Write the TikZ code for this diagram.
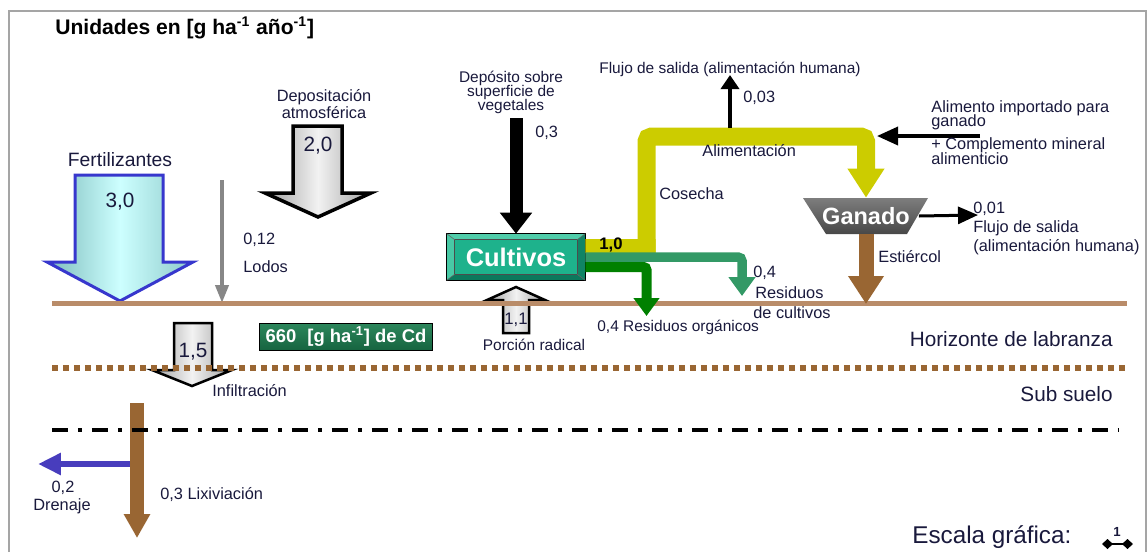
\documentclass[tikz,border=0pt]{standalone}
\usepackage{fontspec}
\setmainfont{Liberation Sans}
\usetikzlibrary{arrows.meta,calc}

\definecolor{textc}{RGB}{25,25,60}
\definecolor{framec}{RGB}{165,165,165}
\definecolor{soilc}{RGB}{185,140,105}
\definecolor{brownc}{RGB}{153,102,51}
\definecolor{yellowc}{RGB}{204,204,0}
\definecolor{midgreen}{RGB}{51,153,102}
\definecolor{darkgreen}{RGB}{0,128,0}
\definecolor{fertedge}{RGB}{55,55,205}
\definecolor{fertside}{RGB}{125,188,188}
\definecolor{fertmid}{RGB}{205,255,255}
\definecolor{greyside}{RGB}{160,160,160}
\definecolor{greymid}{RGB}{242,242,242}
\definecolor{lodosc}{RGB}{135,135,135}
\definecolor{drainc}{RGB}{72,61,189}
\definecolor{cultfill}{RGB}{30,178,140}
\definecolor{cultlight}{RGB}{80,205,170}
\definecolor{cultdark}{RGB}{12,120,92}
\definecolor{ganadotop}{RGB}{125,125,125}
\definecolor{ganadobot}{RGB}{72,72,72}
\definecolor{cdtop}{RGB}{45,135,92}
\definecolor{cdbot}{RGB}{22,100,64}

\tikzset{
  lbl/.style={text=textc, inner sep=0pt, font=\fontsize{9.3}{11}\selectfont},
  lblsm/.style={text=textc, inner sep=0pt, font=\fontsize{8.8}{10}\selectfont},
  lblmid/.style={text=textc, inner sep=0pt, font=\fontsize{11}{13}\selectfont},
  lblbig/.style={text=textc, inner sep=0pt, font=\fontsize{11.8}{14}\selectfont},
  inarrow/.style={text=textc, inner sep=0pt, font=\fontsize{11.8}{14}\selectfont},
  greyblock/.style={draw=black, line join=miter, left color=greyside, right color=greyside, middle color=greymid},
  fertblock/.style={draw=fertedge, line join=miter, left color=fertside, right color=fertside!80!fertmid, middle color=fertmid},
  cultbox/.style={minimum width=2.76cm, minimum height=0.92cm, inner sep=0pt, fill=cultfill,
    text=white, font=\bfseries\fontsize{14.5}{16}\selectfont},
  cdbox/.style={minimum width=3.48cm, minimum height=0.54cm, inner sep=0pt, draw=black, line width=0.02cm,
    top color=cdtop, bottom color=cdbot, text=white, font=\bfseries\fontsize{10.5}{12}\selectfont},
  flow/.style={line cap=butt},
}

\begin{document}
\begin{tikzpicture}[x=0.02cm,y=-0.02cm]
\useasboundingbox (0,0) rectangle (1147,552);

% outer frame
\draw[framec, line width=0.045cm] (9,552) -- (9,11) -- (1146,11) -- (1146,552);

% title
\node[anchor=west, inner sep=0pt, text=black, font=\bfseries\fontsize{12}{14}\selectfont] (title) at (55,28)
  {Unidades en [g ha\textsuperscript{-1} año\textsuperscript{-1}]};

% ---------- inputs from above ----------
\node[lblmid] (fertlbl) at (120,160) {Fertilizantes};
\draw[fertblock, line width=0.06cm]
  (75,175) -- (163,175) -- (163,262) -- (193,262) -- (120,301) -- (47,262) -- (75,262) -- cycle;
\node[inarrow] (fertval) at (120,202) {3,0};

\node[lbl] (atm1) at (324,97) {Depositación};
\node[lbl] (atm2) at (324,113) {atmosférica};
\draw[greyblock, line width=0.07cm]
  (293,126) -- (342,126) -- (342,193) -- (371,193) -- (318,217) -- (265,193) -- (293,193) -- cycle;
\node[inarrow] (atmval) at (318,146) {2,0};

\coordinate (lodostop) at (222,180);
\coordinate (lodosend) at (222,303);
\draw[lodosc, line width=0.08cm, -{Triangle[width=0.26cm,length=0.36cm]}] (lodostop) -- (lodosend);
\node[lbl, anchor=west] (lodosval) at (243,240) {0,12};
\node[lbl, anchor=west] (lodoslbl) at (243,267) {Lodos};

% ---------- crops ----------
\node[cultbox] (cult) at (516,257) {Cultivos};
\fill[cultlight] (cult.north west) -- (cult.north east) -- ($(cult.north east)+(-8,6)$) -- ($(cult.north west)+(8,6)$) -- cycle;
\fill[cultlight!85!cultfill] (cult.north west) -- ($(cult.north west)+(8,6)$) -- ($(cult.south west)+(8,-6)$) -- (cult.south west) -- cycle;
\fill[cultdark] (cult.south west) -- (cult.south east) -- ($(cult.south east)+(-8,-6)$) -- ($(cult.south west)+(8,-6)$) -- cycle;
\fill[cultdark!80!cultfill] (cult.north east) -- ($(cult.north east)+(-8,6)$) -- ($(cult.south east)+(-8,-6)$) -- (cult.south east) -- cycle;
\draw[black, line width=0.025cm] (cult.north west) rectangle (cult.south east);
\draw[black!70, line width=0.015cm] ($(cult.north west)+(8,6)$) rectangle ($(cult.south east)+(-8,-6)$);
\draw[black!60, line width=0.012cm] (cult.north west) -- ($(cult.north west)+(8,6)$)
  (cult.north east) -- ($(cult.north east)+(-8,6)$)
  (cult.south west) -- ($(cult.south west)+(8,-6)$)
  (cult.south east) -- ($(cult.south east)+(-8,-6)$);

\node[lblsm] (dep1) at (511,78) {Depósito sobre};
\node[lblsm] (dep2) at (511,92) {superficie de};
\node[lblsm] (dep3) at (511,106) {vegetales};
\coordinate (deptop) at (516,118);
\draw[black, line width=0.26cm, -{Triangle[width=0.62cm,length=0.42cm]}] (deptop) -- (cult.north);
\node[lbl, anchor=west] (depval) at (535,133) {0,3};

% root uptake
\draw[greyblock, line width=0.05cm]
  (503,333) -- (529,333) -- (529,300) -- (545,300) -- (516,287) -- (487,300) -- (503,300) -- cycle;
\node[text=textc, inner sep=0pt, font=\fontsize{9.5}{11}\selectfont] (rootval) at (516,320) {1,1};
\node[lblsm] (rootlbl) at (534,345) {Porción radical};

% ---------- soil surface ----------
\coordinate (soilL) at (52,303);
\coordinate (soilR) at (1127,303);
\draw[soilc, line width=0.1cm] (soilL) -- (soilR);

% ---------- livestock ----------
\shade[top color=ganadotop, bottom color=ganadobot] (803,198) -- (928,198) -- (907,234) -- (826,234) -- cycle;
\node[minimum width=2.5cm, minimum height=0.72cm, inner sep=0pt, text=white,
  font=\bfseries\fontsize{13.4}{15}\selectfont] (ganado) at (866,216) {Ganado};

% harvest / feed (yellow)
\draw[yellowc, flow, line width=0.28cm] ([yshift=0.22cm]cult.east) -- (655.5,246);
\draw[yellowc, flow, line width=0.36cm, rounded corners=0.1cm, -{Triangle[width=0.7cm,length=0.58cm]}]
  (646.5,253) -- (646.5,136.5) -- (866,136.5) -- (ganado.north);
\node[text=black, inner sep=0pt, font=\bfseries\fontsize{9.5}{11}\selectfont] (harvval) at (611,245) {1,0};

% crop residues (green)
\draw[midgreen, flow, line width=0.19cm, rounded corners=0.08cm, -{Triangle[width=0.52cm,length=0.38cm]}]
  (cult.east) -- (742,257) -- (742,296);
\draw[darkgreen, flow, line width=0.2cm, rounded corners=0.06cm, -{Triangle[width=0.5cm,length=0.36cm]}]
  ([yshift=-0.2cm]cult.east) -- (646.5,267) -- (646.5,316);

% human food outflow from feed
\coordinate (feedout) at (730,128);
\coordinate (feedoutend) at (730,75);
\draw[black, line width=0.07cm, -{Triangle[width=0.36cm,length=0.28cm]}] (feedout) -- (feedoutend);
\node[lblsm, anchor=west] (out1) at (599,69) {Flujo de salida (alimentación humana)};
\node[lbl, anchor=west] (out1val) at (743,98) {0,03};
\node[lbl, anchor=west] (feedlbl) at (702,151) {Alimentación};
\node[lbl, anchor=west] (harvlbl) at (659,194) {Cosecha};

% imported feed
\coordinate (imp) at (980,136);
\coordinate (impend) at (877,136);
\draw[black, line width=0.07cm, -{Triangle[width=0.36cm,length=0.42cm]}] (imp) -- (impend);
\node[lbl, anchor=west] (imp1) at (931,108) {Alimento importado para};
\node[lbl, anchor=west] (imp2) at (931,122) {ganado};
\node[lbl, anchor=west] (imp3) at (931,145) {+ Complemento mineral};
\node[lbl, anchor=west] (imp4) at (931,159) {alimenticio};

% livestock outflow
\coordinate (ganout) at (978,215);
\draw[black, line width=0.06cm, -{Triangle[width=0.34cm,length=0.4cm]}] ([xshift=-0.2cm]ganado.east) -- (ganout);
\node[lbl, anchor=west] (gan1) at (973,209) {0,01};
\node[lbl, anchor=west] (gan2) at (973,228) {Flujo de salida};
\node[lbl, anchor=west] (gan3) at (973,247) {(alimentación humana)};

% manure
\coordinate (manure) at (866,304);
\draw[brownc, line width=0.3cm, -{Triangle[width=0.68cm,length=0.56cm]}] (ganado.south) -- (manure);
\node[lbl, anchor=west] (manlbl) at (878,257) {Estiércol};

\node[lbl, anchor=west] (res1) at (753,273) {0,4};
\node[lbl, anchor=west] (res2) at (755,293) {Residuos};
\node[lbl, anchor=west] (res3) at (753,313) {de cultivos};
\node[lblsm, anchor=west] (org) at (597,327) {0,4 Residuos orgánicos};

% ---------- soil layers ----------
\node[cdbox] (cd) at (346,336.5) {660\hspace{0.6em}[g ha\textsuperscript{-1}] de Cd};

\draw[greyblock, line width=0.05cm]
  (174,323) -- (212,323) -- (212,370) -- (232,370) -- (192,386) -- (152,370) -- (174,370) -- cycle;
\node[inarrow] (infval) at (193,352) {1,5};
\node[lbl, anchor=west] (inflbl) at (212,391) {Infiltración};

\coordinate (lixtop) at (137,403);
\coordinate (lixend) at (137,538);
\coordinate (drainstart) at (137,464);
\coordinate (drainend) at (38,464);
\draw[drainc, line width=0.12cm, -{Triangle[width=0.42cm,length=0.46cm]}] (drainstart) -- (drainend);
\draw[brownc, line width=0.28cm, -{Triangle[width=0.5cm,length=0.48cm]}] (lixtop) -- (lixend);
\node[lbl] (drain1) at (63,488) {0,2};
\node[lbl] (drain2) at (62,506) {Drenaje};
\node[lbl, anchor=west] (lixlbl) at (160,495) {0,3 Lixiviación};

% tillage horizon boundary and subsoil boundary
\draw[brownc, line width=0.11cm, dash pattern=on 0.12cm off 0.1cm] (52,368) -- (1127,368);
\draw[black, line width=0.07cm, dash pattern=on 0.32cm off 0.2cm on 0.08cm off 0.2cm] (52,430) -- (1118,430);

\node[lblbig, anchor=east] (horiz) at (1113,339) {Horizonte de labranza};
\node[lblbig, anchor=east] (subs) at (1113,394) {Sub suelo};

% graphic scale
\node[inner sep=0pt, text=textc, font=\fontsize{13.8}{16}\selectfont, anchor=west] (scalelbl) at (912,537) {Escala gráfica:};
\node[inner sep=0pt, text=textc, font=\bfseries\fontsize{7.5}{9}\selectfont] (scaleone) at (1117,532) {1};
\coordinate (scaleL) at (1102,544);
\coordinate (scaleR) at (1133,544);
\draw[black, line width=0.05cm, {Diamond[width=0.2cm,length=0.22cm]}-{Diamond[width=0.2cm,length=0.22cm]}] (scaleL) -- (scaleR);
\end{tikzpicture}
\end{document}
